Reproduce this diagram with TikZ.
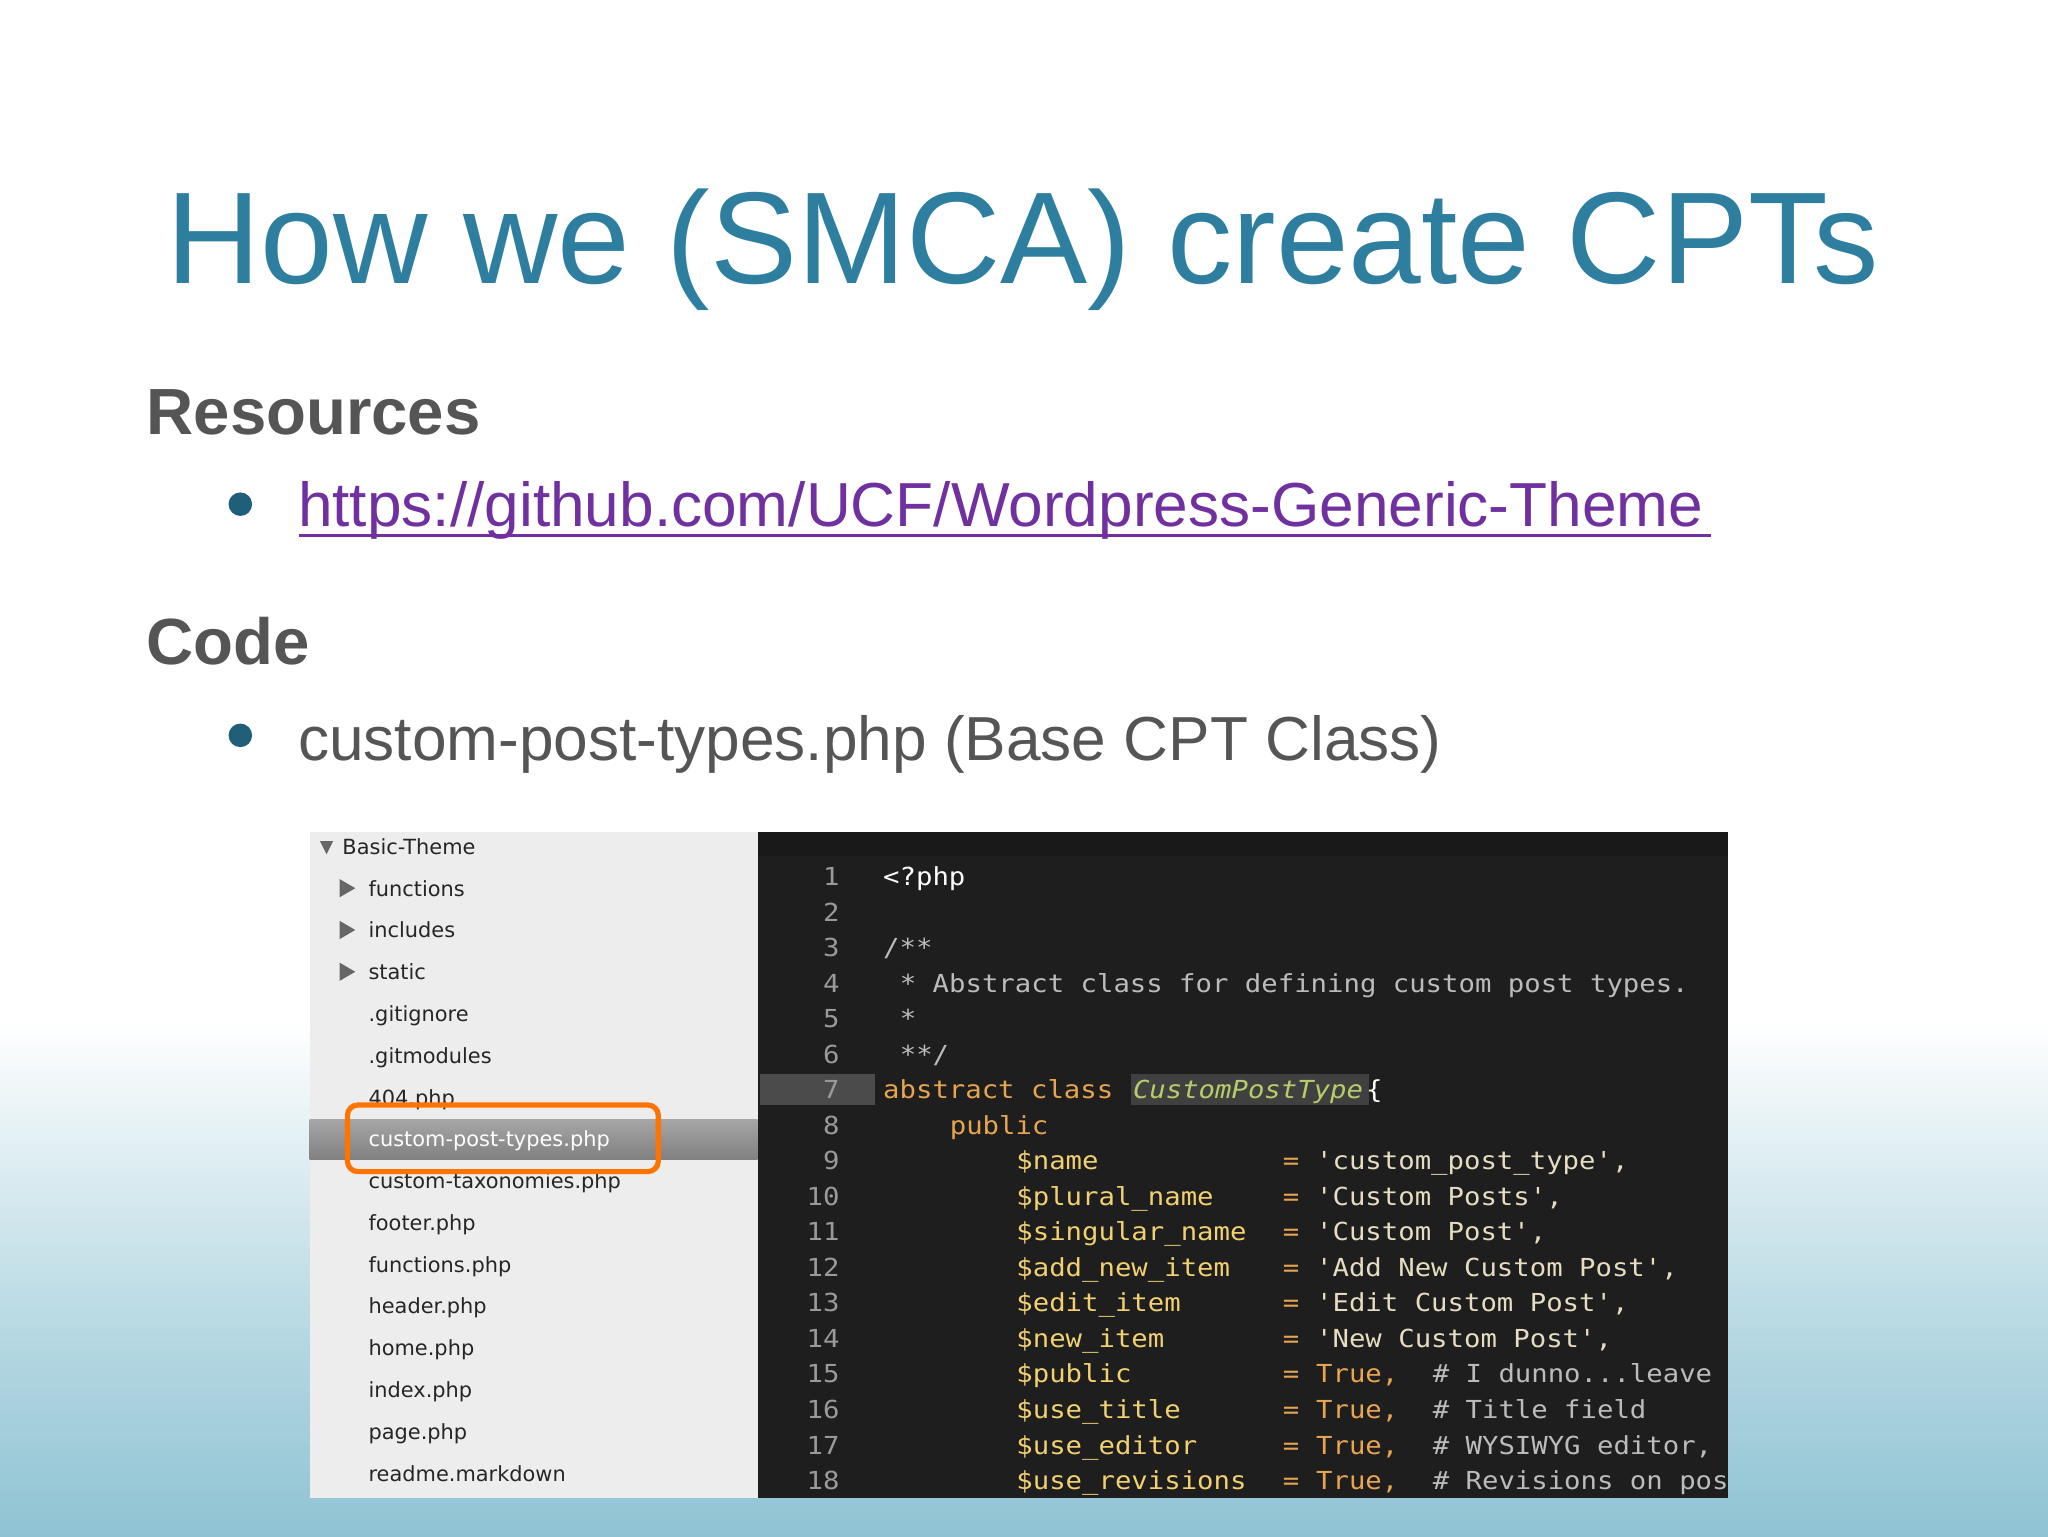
\documentclass[tikz,border=0pt]{standalone}
\usepackage{fontspec}
\setmainfont{Liberation Sans}
\newfontfamily\codefont[FakeStretch=1.1]{DejaVu Sans Mono}
\newfontfamily\treefont{DejaVu Sans}
\definecolor{ttl}{HTML}{2E7EA0}
\definecolor{gr}{HTML}{555555}
\definecolor{lnk}{HTML}{7030A0}
\definecolor{bul}{HTML}{1F5F7A}
\definecolor{cbg}{HTML}{1E1E1E}
\definecolor{lnum}{HTML}{9A9A9A}
\definecolor{cmt}{HTML}{BBBBBB}
\definecolor{kw}{HTML}{E8A550}
\definecolor{var}{HTML}{F0D070}
\definecolor{str}{HTML}{E6DCC0}
\definecolor{cls}{HTML}{B8CC6A}
\definecolor{sea}{HTML}{8FC3D3}
\tikzset{
 code/.style={anchor=base west,inner sep=0,font=\codefont\fontsize{19}{19}\selectfont},
 tree/.style={anchor=base west,inner sep=0,font=\treefont\fontsize{16}{16}\selectfont,text=black!85}
}
\newcommand{\cx}[1]{676+#1*12.75}
\newcommand{\cy}[1]{678+(#1-1)*27.2}
\newcommand{\cl}[4]{\node[code,text=#3] at ({\cx{#1}},{\cy{#2}}) {#4};}
\begin{document}
\begin{tikzpicture}[x=1pt,y=-1pt]
\useasboundingbox (0,0) rectangle (1568,1176);
\fill[white] (0,0) rectangle (1568,1176);
\shade[top color=white,bottom color=sea!60] (0,780) rectangle (1568,1000);
\shade[top color=sea!60,bottom color=sea] (0,1000) rectangle (1568,1176);
% title
\node[anchor=base,inner sep=0,text=ttl,font=\fontsize{100}{100}\selectfont] (title) at (783,217) {How we (SMCA) create CPTs};
\node[anchor=base west,inner sep=0,text=gr,font=\bfseries\fontsize{50}{50}\selectfont] (res) at (112,333) {Resources};
\fill[bul] (184,386) circle (9);
\node[anchor=base west,inner sep=0,text=lnk,font=\fontsize{47.6}{47.6}\selectfont] (link) at (228,403) {https://github.com/UCF/Wordpress-Generic-Theme};
\draw[lnk,line width=2] (229,410) -- (1310,410);
\node[anchor=base west,inner sep=0,text=gr,font=\bfseries\fontsize{50}{50}\selectfont] (codeh) at (112,509) {Code};
\fill[bul] (184,563) circle (9);
\node[anchor=base west,inner sep=0,text=gr,font=\fontsize{47.6}{47.6}\selectfont] (file) at (228,582) {custom-post-types.php (Base CPT Class)};
% left panel
\fill[black!7] (237,637) rectangle (580,1147);
\shade[top color=black!35,bottom color=black!50] (237,857) rectangle (580,888);
\fill[black!60] (245,644) -- (255,644) -- (250,654) -- cycle;
\foreach \y in {680,712,744} {\fill[black!60] (260,\y-7) -- (260,\y+7) -- (272,\y) -- cycle;}
\node[tree] at (262,654) {Basic-Theme};
\foreach \t [count=\i] in {functions,includes,static}
  {\node[tree] at (282,654+\i*32) {\t};}
\foreach \t [count=\i] in {.gitignore,.gitmodules,404.php}
  {\node[tree] at (282,750+\i*32) {\t};}
\node[tree,text=white] at (282,878) {custom-post-types.php};
\foreach \t [count=\i] in {custom-taxonomies.php,footer.php,functions.php,header.php,home.php,index.php,page.php,readme.markdown}
  {\node[tree] at (282,878+\i*32) {\t};}
\draw[orange!90!red,line width=4,rounded corners=8] (266,846) rectangle (504,897);
% code panel
\fill[cbg] (580,637) rectangle (1323,1147);
\fill[black!90] (580,637) rectangle (1323,655);
\fill[white!20!cbg] (582,822) rectangle (670,846);
\fill[white!15!cbg] (866,822) rectangle (1048,846);
\foreach \n in {1,...,18}
  {\node[code,anchor=base east,text=lnum] at (643,{\cy{\n}}) {\n};}
\cl{0}{1}{white}{<?php}
\cl{0}{3}{cmt}{/**}
\cl{1}{4}{cmt}{* Abstract class for defining custom post types.}
\cl{1}{5}{cmt}{*}
\cl{1}{6}{cmt}{**/}
\cl{0}{7}{kw}{abstract class}
\node[code,text=cls,font=\codefont\itshape\fontsize{19}{19}\selectfont] at ({\cx{15}},{\cy{7}}) {CustomPostType};
\cl{29}{7}{white}{\{}
\cl{4}{8}{kw}{public}
\cl{8}{9}{var}{\$name}
\cl{8}{10}{var}{\$plural\_name}
\cl{8}{11}{var}{\$singular\_name}
\cl{8}{12}{var}{\$add\_new\_item}
\cl{8}{13}{var}{\$edit\_item}
\cl{8}{14}{var}{\$new\_item}
\cl{8}{15}{var}{\$public}
\cl{8}{16}{var}{\$use\_title}
\cl{8}{17}{var}{\$use\_editor}
\cl{8}{18}{var}{\$use\_revisions}
\foreach \n in {9,...,18} {\cl{24}{\n}{kw}{=}}
\cl{26}{9}{str}{'custom\_post\_type',}
\cl{26}{10}{str}{'Custom Posts',}
\cl{26}{11}{str}{'Custom Post',}
\cl{26}{12}{str}{'Add New Custom Post',}
\cl{26}{13}{str}{'Edit Custom Post',}
\cl{26}{14}{str}{'New Custom Post',}
\foreach \n in {15,...,18} {\cl{26}{\n}{kw}{True,}}
\begin{scope}
\clip (580,637) rectangle (1323,1147);
\cl{33}{15}{cmt}{\# I dunno...leave}
\cl{33}{16}{cmt}{\# Title field}
\cl{33}{17}{cmt}{\# WYSIWYG editor,}
\cl{33}{18}{cmt}{\# Revisions on post}
\end{scope}
\end{tikzpicture}
\end{document}
